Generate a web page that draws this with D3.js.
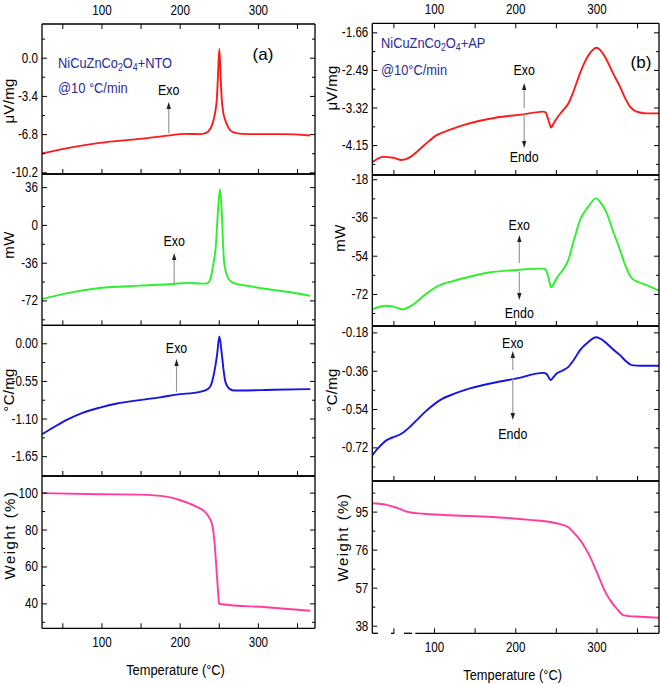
<!DOCTYPE html>
<html><head><meta charset="utf-8">
<script src="https://cdn.jsdelivr.net/npm/d3@7"></script>
<style>
body{margin:0;background:#fff}
svg text{font-family:'Liberation Sans',Arial,sans-serif;fill:#000}
</style>
</head><body><svg id="c" width="660" height="684"></svg>
<script>
// ---------- DATA ----------
const xMajor = [100, 200, 300];
const xMinor = [50, 150, 250, 350];

// (a) NiCuZnCo2O4+NTO
const aUvT = [24, 60, 98, 149, 185, 207, 226, 233, 237, 241, 243.5, 246, 247.5, 249, 250.7, 252.3, 253.8, 255.5, 258, 262, 268, 280, 300, 333, 367];
const aUvV = [-8.52, -8.0, -7.58, -7.22, -6.93, -6.78, -6.8, -6.72, -6.54, -6.05, -5.5, -4.6, -3.7, -1.6, 0.77, -1.6, -3.7, -4.8, -5.5, -6.2, -6.63, -6.78, -6.8, -6.8, -6.93];
const aMwT = [24, 60, 98, 149, 192, 207, 230, 236, 239, 242, 244, 246, 248, 249.8, 251.6, 253.4, 255, 256.5, 258.5, 262, 268.6, 290, 311, 340, 367];
const aMwV = [-70.5, -64.5, -60.2, -57.9, -56.3, -55.3, -56, -55.5, -52, -42, -33, -22, 2, 22, 34, 18, -10, -33, -43, -51, -55.3, -58.5, -61.1, -64, -67.6];
const aCmT = [24, 40, 55.6, 75, 98, 120, 149, 175, 196, 226, 237, 241, 243, 245.5, 248, 250.7, 253.8, 256, 258, 261, 264.4, 270, 277, 320, 367];
const aCmV = [-1.33, -1.22, -1.12, -1.02, -0.94, -0.88, -0.83, -0.79, -0.75, -0.71, -0.66, -0.58, -0.49, -0.34, -0.15, 0.10, -0.15, -0.38, -0.54, -0.63, -0.67, -0.69, -0.69, -0.68, -0.67];
const aWtT = [24, 98, 149, 183, 200, 221, 234, 239, 241, 243, 245, 246.5, 248, 249.3, 250.3, 253.8, 311, 367];
const aWtV = [99.7, 99.1, 98.9, 97.8, 96, 92.4, 88.8, 85.5, 83.4, 79, 70.7, 62, 52.7, 45, 40, 39.5, 37.9, 36];

// (b) NiCuZnCo2O4+AP
const bUvT = [24, 37.5, 50, 60.2, 70, 78.7, 90, 103.3, 120, 136, 177, 210, 234.6, 237.5, 239.5, 242, 244, 247, 251, 258, 265.4, 272, 279.8, 286, 292, 300.3, 306, 312.6, 320, 329, 335, 341.4, 347, 353.7, 362, 377];
const bUvV = [-4.53, -4.41, -4.43, -4.48, -4.42, -4.30, -4.12, -3.93, -3.81, -3.71, -3.54, -3.47, -3.41, -3.43, -3.52, -3.66, -3.76, -3.68, -3.56, -3.40, -3.23, -2.95, -2.56, -2.30, -2.12, -2.0, -2.08, -2.27, -2.55, -2.86, -3.10, -3.30, -3.39, -3.43, -3.45, -3.45];
const bMwT = [24, 39.6, 50, 61.4, 70, 78.7, 90, 107.4, 120, 136, 169, 201.8, 234.6, 237.5, 239.5, 242, 244, 247, 251, 258, 265.4, 272, 279.8, 290, 299.5, 306, 312.6, 320, 329, 336, 343.4, 352, 361.8, 377];
const bMwV = [-79.3, -77.6, -78, -79.3, -78, -75.7, -72, -67.8, -66.3, -64.6, -61.8, -60.7, -60.1, -60.5, -62.3, -66, -68.9, -67.5, -64.6, -61, -56, -47, -37.2, -30.9, -27, -29.5, -34, -42, -51.3, -59, -64.6, -66.5, -67.8, -70.5];
const bCmT = [24, 32, 41.7, 50, 60.2, 70, 78.7, 90, 107.4, 125, 144.3, 177, 201.8, 234.6, 238.8, 241, 243.7, 247, 251, 258, 265.4, 272, 279.8, 290, 299.5, 306, 312.6, 320, 329, 336, 343.4, 355, 377];
const bCmV = [-0.757, -0.72, -0.686, -0.672, -0.655, -0.625, -0.592, -0.55, -0.498, -0.468, -0.443, -0.414, -0.396, -0.370, -0.376, -0.39, -0.404, -0.39, -0.373, -0.36, -0.342, -0.31, -0.263, -0.225, -0.203, -0.212, -0.232, -0.258, -0.287, -0.314, -0.334, -0.337, -0.337];
const bWtT = [24, 41.7, 55, 66.4, 80, 95, 136, 177, 218, 251, 265.4, 272, 279.8, 286, 292, 298, 304.4, 310, 316.7, 325, 333, 340, 353.7, 377];
const bWtV = [99.2, 98.4, 96.8, 95, 94.1, 93.7, 92.9, 92.2, 90.9, 89.2, 87.2, 84.5, 80.9, 77, 72.5, 67, 60.9, 55.5, 50.9, 46.5, 43.3, 42.8, 42.5, 42];

// tick labels
const aUvTicks = [0.0, -3.4, -6.8, -10.2];
const aMwTicks = [36, 0, -36, -72];
const aCmTicks = [0.00, -0.55, -1.10, -1.65];
const aWtTicks = [100, 80, 60, 40];
const bUvTicks = [-1.66, -2.49, -3.32, -4.15];
const bMwTicks = [-18, -36, -54, -72];
const bCmTicks = [-0.18, -0.36, -0.54, -0.72];
const bWtTicks = [95, 76, 57, 38];

const yTitles = ["\u03bcV/mg", "mW", "\u00b0C/mg", "Weight (%)"];
const colors = ["#ff1a1a", "#2cf02c", "#1414e6", "#ff3d9e"];

// ---------- DRAW ----------
const svg = d3.select("#c");
const FS = 14;
const NX = 0.83; // horizontal condensing of the narrow font

function narrow(sel) {
  sel.each(function () {
    const t = d3.select(this);
    const xv = +(t.attr("x") || 0);
    t.attr("x", xv / NX).attr("transform", `scale(${NX},1)`).attr("font-size", FS);
  });
}
function ntext(parent, x, y, str, size, anchor, fill) {
  const g = parent.append("g").attr("transform", `translate(${x},${y}) scale(${NX},1)`);
  return g.append("text").attr("text-anchor", anchor || "middle").attr("dominant-baseline", "central")
    .attr("font-size", size).style("fill", fill || "#000").text(str);
}

function drawColumn(cfg) {
  const x = d3.scaleLinear().domain(cfg.xDomain).range([cfg.left, cfg.right]);
  cfg.panels.forEach((p, i) => {
    const y = d3.scaleLinear().domain(p.domain).range([p.bottom, p.top]);
    const g = svg.append("g");
    const cid = "clip" + cfg.id + i;
    svg.append("clipPath").attr("id", cid).append("rect")
      .attr("x", cfg.left).attr("y", p.top).attr("width", cfg.right - cfg.left).attr("height", p.bottom - p.top);
    const pts = p.T.map((t, k) => [t, p.V[k]]);
    g.append("path").datum(pts)
      .attr("clip-path", `url(#${cid})`)
      .attr("fill", "none").attr("stroke", colors[i]).attr("stroke-width", 1.9)
      .attr("d", d3.line().x(d => x(d[0])).y(d => y(d[1])).curve(d3.curveMonotoneX));
    const step = p.ticks[0] - p.ticks[1];
    const minors = [];
    for (let v = p.ticks[0] + step / 2; v > p.domain[0]; v -= step) if (v < p.domain[1]) minors.push(v);
    const majFmt = d3.format(p.fmt);
    const clean = s => s.replace("\u2212", "-");
    g.append("g").attr("transform", `translate(${cfg.left},0)`)
      .call(d3.axisLeft(y).tickValues(p.ticks).tickSize(-5).tickPadding(4).tickFormat(v => clean(majFmt(v))))
      .call(a => a.select(".domain").remove())
      .call(a => a.selectAll("text").style("font-family", null).call(narrow));
    g.append("g").attr("transform", `translate(${cfg.left},0)`)
      .call(d3.axisLeft(y).tickValues(minors).tickSize(-3).tickFormat(""))
      .call(a => a.select(".domain").remove());
    g.append("g").attr("transform", `translate(${cfg.right},0)`)
      .call(d3.axisRight(y).tickValues(p.ticks).tickSize(-5).tickFormat(""))
      .call(a => a.select(".domain").remove());
    g.append("g").attr("transform", `translate(${cfg.right},0)`)
      .call(d3.axisRight(y).tickValues(minors).tickSize(-3).tickFormat(""))
      .call(a => a.select(".domain").remove());
    const last = i === cfg.panels.length - 1;
    g.append("g").attr("transform", `translate(0,${p.bottom})`)
      .call(d3.axisBottom(x).tickValues(xMajor).tickSize(-5).tickPadding(9).tickFormat(last ? d3.format("d") : ""))
      .call(a => a.select(".domain").remove())
      .call(a => a.selectAll("text").style("font-family", null).call(narrow));
    g.append("g").attr("transform", `translate(0,${p.bottom})`)
      .call(d3.axisBottom(x).tickValues(xMinor).tickSize(-5).tickFormat(""))
      .call(a => a.select(".domain").remove());
    if (i === 0) {
      g.append("g").attr("transform", `translate(0,${p.top})`)
        .call(d3.axisTop(x).tickValues(xMajor).tickSize(-5).tickPadding(9).tickFormat(d3.format("d")))
        .call(a => a.select(".domain").remove())
        .call(a => a.selectAll("text").style("font-family", null).call(narrow));
      g.append("g").attr("transform", `translate(0,${p.top})`)
        .call(d3.axisTop(x).tickValues(xMinor).tickSize(-5).tickFormat(""))
        .call(a => a.select(".domain").remove());
    }
    const fr = g.append("g").attr("stroke", "#000").attr("stroke-width", 1.3).attr("fill", "none");
    fr.append("line").attr("x1", cfg.left).attr("x2", cfg.right).attr("y1", p.top).attr("y2", p.top);
    fr.append("line").attr("x1", cfg.left).attr("x2", cfg.left).attr("y1", p.top).attr("y2", p.bottom);
    fr.append("line").attr("x1", cfg.right).attr("x2", cfg.right).attr("y1", p.top).attr("y2", p.bottom);
    const segs = (last && cfg.bottomSegs) ? cfg.bottomSegs : [cfg.xDomain];
    segs.forEach(s => fr.append("line").attr("x1", x(s[0])).attr("x2", x(s[1])).attr("y1", p.bottom).attr("y2", p.bottom));
    svg.append("text")
      .attr("transform", `translate(${p.labelPos[0]},${p.labelPos[1]}) rotate(-90)`)
      .attr("text-anchor", "middle").attr("dominant-baseline", "central")
      .attr("font-size", 15).attr("letter-spacing", i === 3 ? 1.5 : 0.3)
      .text(yTitles[i]);
    if (p.exo) {
      const e = p.exo;
      const ax = x(e.t);
      ntext(svg, ax, e.textY, "Exo", 15);
      arrow(ax, e.upFrom, e.upTo);
      if (e.endo) {
        arrow(ax, e.endo.from, e.endo.to);
        ntext(svg, ax, e.endo.textY, "Endo", 15);
      }
    }
  });
  ntext(svg, (cfg.left + cfg.right) / 2 - 3, cfg.titleY, "Temperature (\u00b0C)", 15.5);
  const lg = svg.append("g").attr("transform", `translate(${cfg.legX},${cfg.legY1}) scale(${NX},1)`);
  const t1 = lg.append("text").attr("dominant-baseline", "central").attr("font-size", 15.5).style("fill", "#2b2b97");
  t1.append("tspan").text("NiCuZnCo");
  t1.append("tspan").attr("font-size", 10.5).attr("dy", 4).text("2");
  t1.append("tspan").attr("dy", -4).text("O");
  t1.append("tspan").attr("font-size", 10.5).attr("dy", 4).text("4");
  t1.append("tspan").attr("dy", -4).text(cfg.sample);
  ntext(svg, cfg.legX, cfg.legY2, cfg.rate, 15.5, "start", "#2b2b97");
  svg.append("text").attr("x", cfg.tagX).attr("y", cfg.tagY)
    .attr("text-anchor", "middle").attr("dominant-baseline", "central").attr("font-size", 17).text(cfg.tag);
}

function arrow(x0, y0, y1) {
  const dir = y1 < y0 ? 1 : -1;
  svg.append("line").attr("x1", x0).attr("x2", x0).attr("y1", y0).attr("y2", y1 + dir * 5)
    .attr("stroke", "#9a9a9a").attr("stroke-width", 1.2);
  svg.append("path")
    .attr("d", `M${x0},${y1} L${x0 - 2.2},${y1 + dir * 7} L${x0 + 2.2},${y1 + dir * 7} Z`)
    .attr("fill", "#222");
}

drawColumn({
  id: "a", left: 42, right: 315, xDomain: [24, 373], titleY: 670,
  legX: 58, legY1: 63, legY2: 88, sample: "+NTO", rate: "@10 \u00b0C/min", tag: "(a)", tagX: 263, tagY: 54,
  panels: [
    {top: 24, bottom: 174, domain: [-10.35, 3.0], ticks: aUvTicks, fmt: ".1f", T: aUvT, V: aUvV, labelPos: [8, 101],
     exo: {t: 186, textY: 90, upFrom: 133, upTo: 102}},
    {top: 174, bottom: 325.3, domain: [-95.7, 48.5], ticks: aMwTicks, fmt: "d", T: aMwT, V: aMwV, labelPos: [8, 245],
     exo: {t: 193, textY: 241, upFrom: 283, upTo: 253}},
    {top: 325.3, bottom: 476, domain: [-1.94, 0.263], ticks: aCmTicks, fmt: ".2f", T: aCmT, V: aCmV, labelPos: [8, 390],
     exo: {t: 196, textY: 348, upFrom: 392, upTo: 359}},
    {top: 476, bottom: 628.3, domain: [26.5, 109], ticks: aWtTicks, fmt: "d", T: aWtT, V: aWtV, labelPos: [9, 535]}
  ]
});

drawColumn({
  id: "b", left: 372.3, right: 659, xDomain: [24, 377], titleY: 675,
  legX: 381, legY1: 43, legY2: 70, sample: "+AP", rate: "@10\u00b0C/min", tag: "(b)", tagX: 641, tagY: 62,
  bottomSegs: [[24, 31], [47, 51], [63, 73], [77, 377]],
  panels: [
    {top: 23.3, bottom: 175, domain: [-4.81, -1.46], ticks: bUvTicks, fmt: ".2f", T: bUvT, V: bUvV, labelPos: [331, 88],
     exo: {t: 211, textY: 70, upFrom: 108, upTo: 83, endo: {from: 113, to: 148, textY: 157}}},
    {top: 175, bottom: 326, domain: [-87.1, -16], ticks: bMwTicks, fmt: "d", T: bMwT, V: bMwV, labelPos: [339, 238],
     exo: {t: 205, textY: 225, upFrom: 263, upTo: 235, endo: {from: 272, to: 300, textY: 313}}},
    {top: 326, bottom: 481, domain: [-0.878, -0.15], ticks: bCmTicks, fmt: ".2f", T: bCmT, V: bCmV, labelPos: [331, 390],
     exo: {t: 197, textY: 343, upFrom: 370, upTo: 351, endo: {from: 378, to: 420, textY: 434}}},
    {top: 481, bottom: 633.3, domain: [34.2, 110.3], ticks: bWtTicks, fmt: "d", T: bWtT, V: bWtV, labelPos: [342, 537]}
  ]
});
</script>
</body></html>
